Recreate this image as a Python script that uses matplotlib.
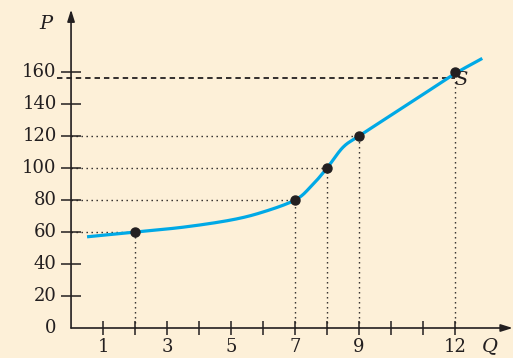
import matplotlib.pyplot as plt
import numpy as np

# Supply curve: points (Q, P)
curve_q = [0.5, 2, 3.5, 5, 6, 7, 7.5, 8, 8.5, 9, 10, 11, 12, 12.85]
curve_p = [57, 60, 63, 67.5, 72.5, 80, 88.5, 100, 113, 120, 133, 146, 159, 168.5]

# Marked points on the curve
pts_q = [2, 7, 8, 9, 12]
pts_p = [60, 80, 100, 120, 160]
s_level = 156  # dashed line to S

x_ticks = list(range(1, 13))
x_labels = [1, 3, 5, 7, 9, 12]
y_ticks = [20, 40, 60, 80, 100, 120, 140, 160]
y_labels = [0, 20, 40, 60, 80, 100, 120, 140, 160]

BG = "#fdf0d8"
BLUE = "#00a9e6"
INK = "#231f20"


def catmull_rom(xs, ys, n=30):
    """Smooth curve through the given points (uniform Catmull-Rom)."""
    xs = np.asarray(xs, float)
    ys = np.asarray(ys, float)
    px = np.concatenate([[2 * xs[0] - xs[1]], xs, [2 * xs[-1] - xs[-2]]])
    py = np.concatenate([[2 * ys[0] - ys[1]], ys, [2 * ys[-1] - ys[-2]]])
    out_x, out_y = [], []
    t = np.linspace(0, 1, n, endpoint=False)
    for i in range(1, len(px) - 2):
        for p, out in ((px, out_x), (py, out_y)):
            p0, p1, p2, p3 = p[i - 1], p[i], p[i + 1], p[i + 2]
            out.append(0.5 * (2 * p1 + (-p0 + p2) * t
                              + (2 * p0 - 5 * p1 + 4 * p2 - p3) * t ** 2
                              + (-p0 + 3 * p1 - 3 * p2 + p3) * t ** 3))
    out_x.append([xs[-1]])
    out_y.append([ys[-1]])
    return np.concatenate(out_x), np.concatenate(out_y)


fig = plt.figure(figsize=(5.13, 3.58), dpi=100, facecolor=BG)
ax = fig.add_axes([0, 0, 1, 1])
ax.set_facecolor(BG)
ax.set_xlim(-2.22, 13.81)
ax.set_ylim(-18.75, 205)
ax.axis("off")

serif = "DejaVu Serif"
fs = 13

# axes with arrows
arrow = dict(arrowstyle="-|>,head_length=0.7,head_width=0.22",
             color=INK, lw=1.2, shrinkA=0, shrinkB=0)
ax.annotate("", xy=(13.8, 0), xytext=(0, 0), arrowprops=arrow)
ax.annotate("", xy=(0, 199), xytext=(0, 0), arrowprops=arrow)

# ticks crossing the axes
for q in x_ticks:
    ax.plot([q, q], [-4.5, 4.5], color=INK, lw=1.1, solid_capstyle="butt")
for q in x_labels:
    ax.text(q, -6.0, str(q), ha="center", va="top", fontsize=fs, family=serif, color=INK)
for p in y_ticks:
    ax.plot([-0.3, 0.3], [p, p], color=INK, lw=1.1, solid_capstyle="butt")
for p in y_labels:
    ax.text(-0.45, p, str(p), ha="right", va="center", fontsize=fs, family=serif, color=INK)

ax.text(-0.8, 190, "P", ha="center", va="center", fontsize=fs + 1, family=serif,
        style="italic", color=INK)
ax.text(13.1, -11.5, "Q", ha="center", va="center", fontsize=fs + 1, family=serif,
        style="italic", color=INK)

# guide lines to the marked points
dots = (0, (1, 2.6))
for q, p in zip(pts_q, pts_p):
    ax.plot([q, q], [0, p if q != 12 else s_level], ls=dots, color=INK, lw=1.0)
for q, p in zip(pts_q[:-1], pts_p[:-1]):
    ax.plot([0, q], [p, p], ls=dots, color=INK, lw=1.0)
ax.plot([-0.45, 12], [s_level, s_level], ls=(0, (3, 2.2)), color=INK, lw=1.3)

cx, cy = catmull_rom(curve_q, curve_p)
ax.plot(cx, cy, color=BLUE, lw=2.3, solid_capstyle="butt", zorder=3)
ax.plot(pts_q, pts_p, "o", color=INK, ms=6.5, zorder=4)
ax.text(11.98, 155, "S", ha="left", va="center", fontsize=fs + 1, family=serif,
        style="italic", color=INK, zorder=5)

fig.savefig("out.png", dpi=100, facecolor=BG)
